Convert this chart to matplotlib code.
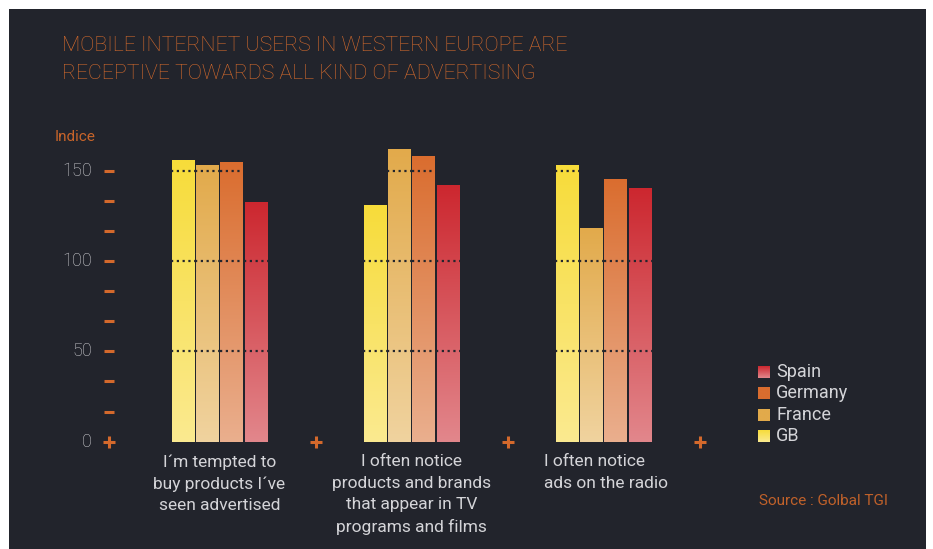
import numpy as np
import matplotlib
matplotlib.use('Agg')
import matplotlib.pyplot as plt
from matplotlib.colors import LinearSegmentedColormap
from matplotlib.patches import Rectangle
import matplotlib.transforms as mtransforms

plt.rcParams['font.family'] = ['Roboto', 'DejaVu Sans']
plt.rcParams['font.weight'] = 'light'

# データ
title_lines = ['MOBILE INTERNET USERS IN WESTERN EUROPE ARE',
               'RECEPTIVE TOWARDS ALL KIND OF ADVERTISING']
categories = ['I\u00b4m tempted to\nbuy products I\u00b4ve\nseen advertised',
              'I often notice\nproducts and brands\nthat appear in TV\nprograms and films',
              'I often notice\nads on the radio']
countries = ['GB', 'France', 'Germany', 'Spain']
gb = [156, 131, 153]
france = [153, 162, 118]
germany = [154.5, 158, 145.5]
spain = [132.5, 142, 140.5]
yticks = [0, 50, 100, 150]
legend_order = ['Spain', 'Germany', 'France', 'GB']

# 色 (上端, 下端)
colors = {'GB': ('#f7dc3a', '#fbea90'),
          'France': ('#e2aa4b', '#f0d39f'),
          'Germany': ('#da6d2f', '#eaaf8e'),
          'Spain': ('#cc272f', '#e2878c')}
bg = '#22242c'
orange = '#d4692c'
text_col = '#d4d4d8'

W, H = 933, 549
fig = plt.figure(figsize=(W / 100, H / 100), dpi=100, facecolor='white')
fig.patches.append(Rectangle((9 / W, 0), 917 / W, 540 / H, transform=fig.transFigure,
                             facecolor=bg, edgecolor='none', zorder=-10))

# 軸の配置 (ピクセル基準)
px0, pxs = 219.5, 192
y0px, pxu = 441.7, 1.807
xlim = (-0.6, 2.6)
ylim = (0, 170)
ax = fig.add_axes([(px0 + xlim[0] * pxs) / W, (H - y0px) / H,
                   (xlim[1] - xlim[0]) * pxs / W, ylim[1] * pxu / H])
ax.set_facecolor('none')
ax.axis('off')

values = {'GB': gb, 'France': france, 'Germany': germany, 'Spain': spain}
bw = 0.117
pitch = 0.1265
grad = np.linspace(0, 1, 256).reshape(-1, 1)
for i, c in enumerate(countries):
    cmap = LinearSegmentedColormap.from_list(c, [colors[c][1], colors[c][0]])
    for g, v in enumerate(values[c]):
        xc = g + (i - 1.5) * pitch
        ax.imshow(grad, extent=(xc - bw / 2, xc + bw / 2, 0, v), origin='lower',
                  aspect='auto', cmap=cmap, zorder=2, interpolation='bilinear')
        # 点線 (棒の上だけ)
        for lvl in [50, 100, 150]:
            if v > lvl:
                ax.plot([xc - pitch / 2, xc + pitch / 2], [lvl, lvl], color='#23252d',
                        linestyle=(0, (1, 1.6)), linewidth=1.6, zorder=3)

# 目盛り
yaxis_x = (109 - px0) / pxs
minor = np.arange(1, 10) * 50 / 3
ax.plot([yaxis_x] * len(minor), minor, linestyle='none', marker='_', markersize=7.5,
        markeredgewidth=2.2, color=orange, clip_on=False, zorder=4)
ax.plot([yaxis_x, 0.5, 1.5, 2.5], [0, 0, 0, 0], linestyle='none', marker='+',
        markersize=8, markeredgewidth=2.2, color=orange, clip_on=False, zorder=4)
for t in yticks:
    ax.text((92 - px0) / pxs, t, str(t), ha='right', va='center', fontsize=13,
            color='#cfcfd3')
fig.text(55 / W, 1 - 141 / H, 'Indice', fontsize=11, color='#c8642a', ha='left',
         va='baseline', weight='normal')

# タイトル
for k, line in enumerate(title_lines):
    fig.text(62 / W, 1 - (51 + 28 * k) / H, line, fontsize=15.3, color='#d86c2c',
             ha='left', va='baseline')

# カテゴリラベル
trans = mtransforms.blended_transform_factory(ax.transData, fig.transFigure)
aligns = ['center', 'center', 'left']
for g, (lab, al) in enumerate(zip(categories, aligns)):
    x = g if al == 'center' else (544 - px0) / pxs
    ax.text(x, 1 - 454 / H, lab, transform=trans, ha=al, va='top', multialignment=al,
            fontsize=12.5, color=text_col, linespacing=1.55, weight='normal')

# 凡例
lx0 = (758 - px0) / pxs
lw_ = 12 / pxs
lh = 12 / pxu
for name, ypx in zip(legend_order, [372, 393, 415, 436]):
    yc = (y0px - ypx) / pxu
    top = colors[name][0]
    bot = colors[name][1] if name in ('Spain', 'GB') else top
    cmap = LinearSegmentedColormap.from_list(name + 'L', [bot, top])
    im = ax.imshow(grad, extent=(lx0, lx0 + lw_, yc - lh / 2, yc + lh / 2),
                   origin='lower', aspect='auto', cmap=cmap, zorder=2)
    im.set_clip_on(False)
    ax.text((776 - px0) / pxs, yc, name, ha='left', va='center', fontsize=13,
            color=text_col, weight='normal')

fig.text(759 / W, 1 - 505 / H, 'Source : Golbal TGI', fontsize=11, color='#c0612a',
         ha='left', va='baseline', weight='normal')

ax.set_xlim(*xlim)
ax.set_ylim(*ylim)
fig.savefig('out.png', dpi=100, facecolor='white')
